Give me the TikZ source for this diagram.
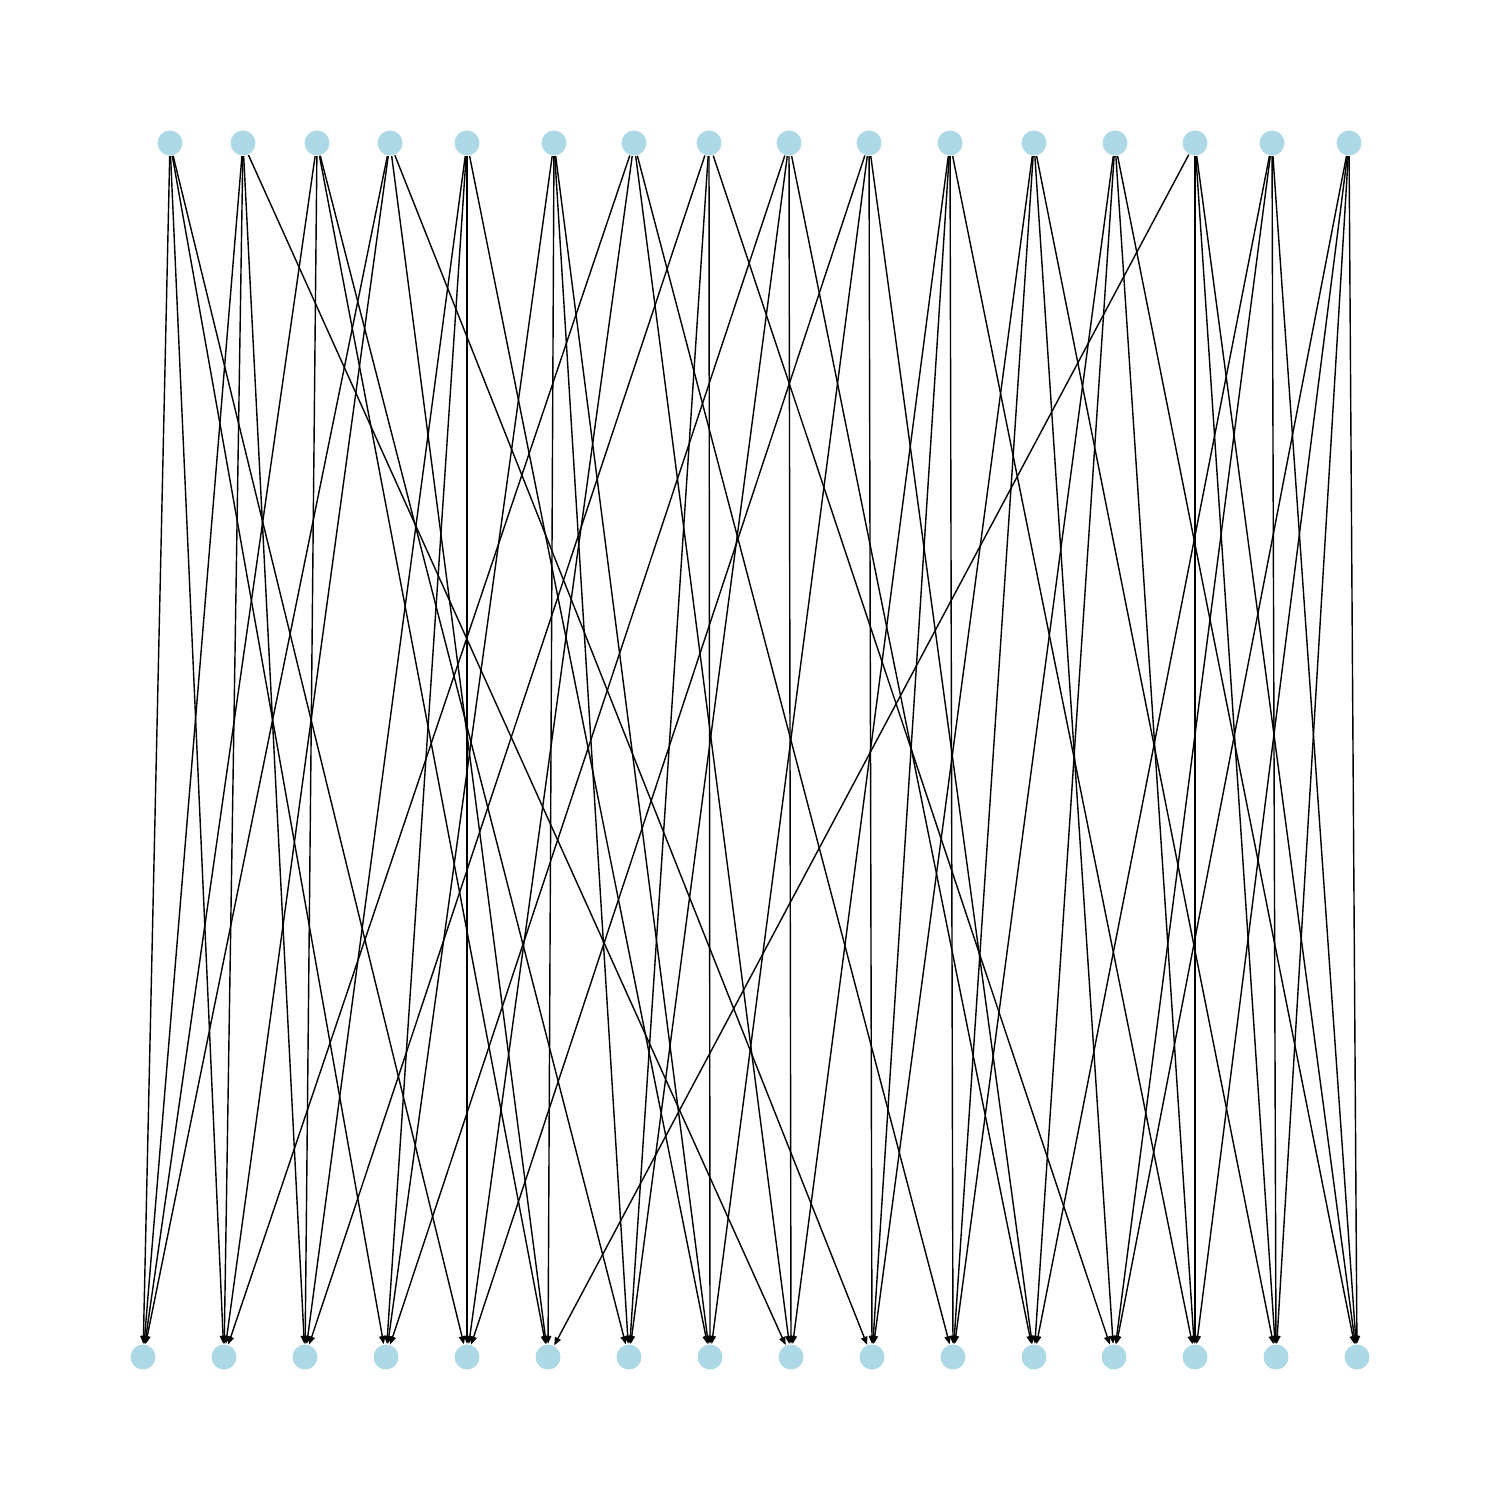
\documentclass[tikz,border=0pt]{standalone}
\usetikzlibrary{arrows.meta}
\definecolor{nodeblue}{HTML}{ADD8E6}
\tikzset{
  vert/.style={circle,fill=nodeblue,draw=none,minimum size=2.5mm,inner sep=0pt},
  edge/.style={draw=black,line width=0.4pt,-{Triangle[length=0.8mm,width=0.65mm]}}
}
\begin{document}
\begin{tikzpicture}[x=0.1mm,y=-0.1mm]
\useasboundingbox (0,0) rectangle (1500,1500);
% top nodes
\foreach \i/\x in {1/170,2/243,3/317,4/390,5/467,6/554,7/634,8/709,9/789,10/869,11/950,12/1034,13/1115,14/1195,15/1272,16/1349}
  \node[vert] (t\i) at (\x,143) {};
% bottom nodes
\foreach \i/\x in {1/143,2/224,3/305,4/386,5/467,6/548,7/629,8/710,9/791,10/872,11/953,12/1034,13/1114,14/1195,15/1276,16/1357}
  \node[vert] (b\i) at (\x,1357) {};
% edges
\foreach \s/\targets in {1/{1,2,4,5},2/{1,2,3,9},3/{1,3,6,7},4/{1,2,6,10},5/{3,4,5,8},6/{4,6,7,8},7/{2,5,9,11},8/{3,7,8,13},9/{4,7,9,12},10/{5,8,10,12},11/{9,10,11,14},12/{10,11,13,15},13/{11,12,14,16},14/{6,14,15,16},15/{12,13,15,16},16/{13,14,15,16}}
  \foreach \t in \targets
    \draw[edge] (t\s) -- (b\t);
\end{tikzpicture}
\end{document}
